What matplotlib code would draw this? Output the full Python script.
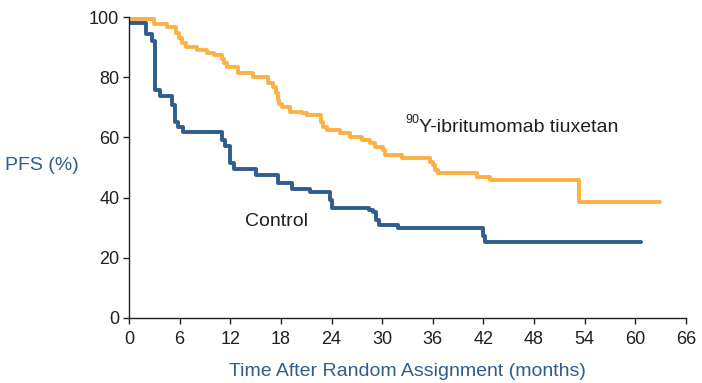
import matplotlib
matplotlib.use("Agg")
import matplotlib.pyplot as plt

plt.rcParams['font.family'] = ['Liberation Sans', 'DejaVu Sans']

# Data (Kaplan-Meier step curves)
ibr_time = [0, 3.0, 4.5, 5.6, 5.9, 6.3, 6.7, 8.0, 9.2, 10.1, 11.0, 11.3, 11.6, 12.9,
            14.7, 16.5, 17.1, 17.4, 17.6, 17.8, 18.1, 19.1, 20.5, 21.1, 22.8, 23.0,
            23.5, 25.0, 26.2, 27.6, 28.6, 29.1, 30.1, 30.3, 32.3, 35.7, 36.0, 36.3,
            36.6, 41.2, 42.8, 53.3, 62.9]
ibr_pfs = [99.5, 97.7, 96.6, 94.6, 93.0, 91.3, 90.0, 89.0, 88.0, 87.4, 86.0, 84.6, 83.3, 81.4,
           80.0, 78.2, 76.8, 74.9, 72.4, 71.0, 70.2, 68.5, 68.0, 67.4, 65.2, 63.5,
           62.5, 61.4, 60.0, 59.1, 58.0, 56.9, 55.8, 54.2, 53.0, 51.9, 50.8, 49.2,
           48.1, 46.7, 45.8, 38.4, 38.4]

ctl_time = [0, 2.0, 2.7, 3.1, 3.7, 5.1, 5.5, 5.8, 6.4, 11.0, 11.4, 12.0, 12.4, 15.1,
            17.7, 19.3, 21.4, 23.8, 24.1, 28.4, 28.9, 29.3, 29.6, 31.9, 42.0, 42.2, 60.7]
ctl_pfs = [97.9, 94.2, 92.0, 75.7, 73.8, 70.8, 65.2, 63.6, 61.7, 59.1, 57.0, 51.5, 49.5, 47.5,
           44.7, 42.9, 42.0, 39.2, 36.4, 35.9, 35.3, 32.6, 30.9, 29.8, 27.2, 25.1, 25.1]

x_ticks = list(range(0, 67, 6))
y_ticks = [0, 20, 40, 60, 80, 100]

orange = '#FDB144'
blue = '#2F5E8E'
text_col = '#231F20'

fig = plt.figure(figsize=(7.02, 3.83), dpi=100)
ax = fig.add_axes([129/702, 1 - 318/383, 557/702, 301/383])

ax.plot(ibr_time, ibr_pfs, drawstyle='steps-post', color=orange, lw=2.8, solid_capstyle='round')
ax.plot(ctl_time, ctl_pfs, drawstyle='steps-post', color=blue, lw=2.8, solid_capstyle='round')

ax.set_xlim(0, 66)
ax.set_ylim(0, 100)
ax.set_xticks(x_ticks)
ax.set_yticks(y_ticks)
for s in ['top', 'right']:
    ax.spines[s].set_visible(False)
for s in ['left', 'bottom']:
    ax.spines[s].set_color(text_col)
    ax.spines[s].set_linewidth(1.0)
ax.tick_params(direction='out', length=4, width=1.0, colors=text_col, labelsize=13)
ax.tick_params(axis='x', pad=5)
ax.tick_params(axis='y', pad=3)

ax.set_xlabel('Time After Random Assignment (months)', color=blue, fontsize=14, labelpad=11)
fig.text(5/702, 1 - 166/383, 'PFS (%)', color=blue, fontsize=14, ha='left', va='center')

ax.text(17.5, 31.9, 'Control', color=text_col, fontsize=14, ha='center', va='center')
ax.text(34.4, 63.4, 'Y-ibritumomab tiuxetan', color=text_col, fontsize=14, ha='left', va='center')
ax.text(34.4, 65.8, '90', color=text_col, fontsize=9, ha='right', va='center')

fig.savefig('out.png', dpi=100)
